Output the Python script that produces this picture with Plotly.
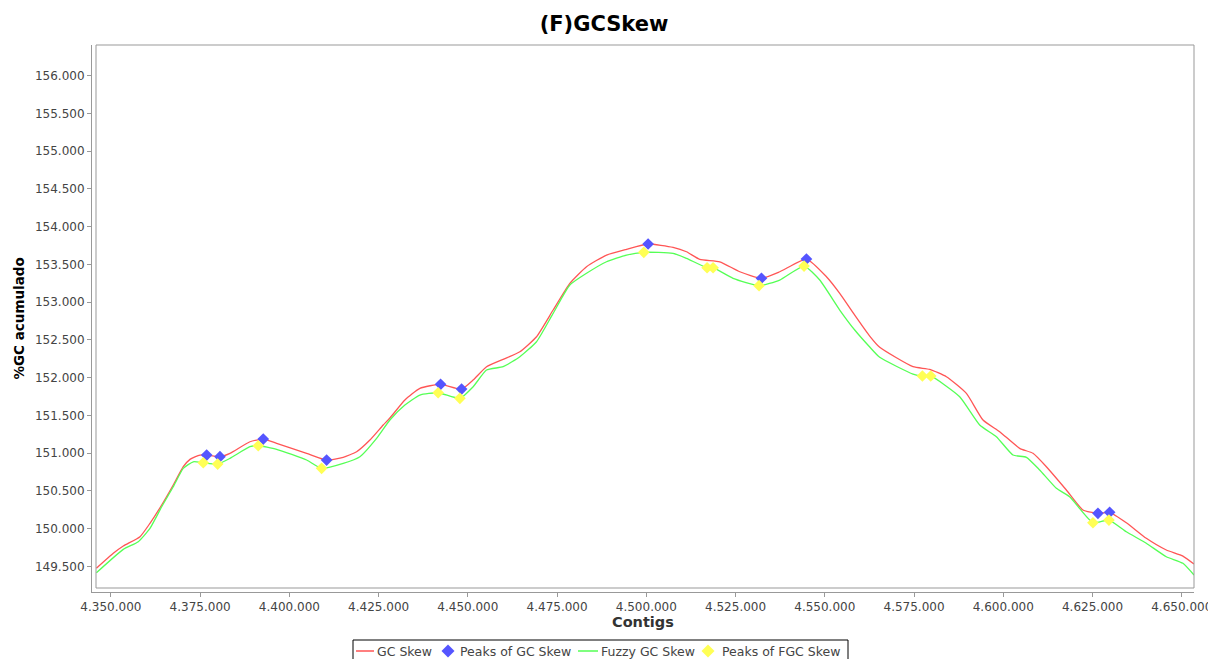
import plotly.graph_objects as go

# Cumulative GC skew along the contigs (position, %GC accumulated)
gc_x = [4345940, 4350670, 4353473, 4358149, 4360950, 4364227, 4367475, 4370276,
        4372152, 4374952, 4376829, 4380553, 4383353, 4388954, 4392680, 4396432,
        4404834, 4410435, 4415084, 4418836, 4422561, 4426286, 4428162, 4432362,
        4436563, 4442361, 4448242, 4451490, 4455243, 4459892, 4464569, 4469246,
        4473895, 4478572, 4483249, 4488850, 4494451, 4500499, 4507501, 4511253,
        4514978, 4520579, 4526180, 4532257, 4537382, 4544859, 4550461, 4554185,
        4558386, 4562587, 4565387, 4574713, 4579390, 4584066, 4589668, 4594317,
        4598994, 4604595, 4608319, 4612072, 4617673, 4622322, 4626521, 4629798,
        4634475, 4640076, 4645677, 4650326, 4653433]
gc_y = [149.476, 149.674, 149.771, 149.894, 150.072, 150.314, 150.579, 150.821,
        150.919, 150.976, 150.976, 150.954, 150.999, 151.152, 151.188, 151.131,
        150.999, 150.910, 150.946, 151.020, 151.175, 151.374, 151.466, 151.705,
        151.860, 151.913, 151.850, 151.970, 152.146, 152.244, 152.344, 152.543,
        152.897, 153.250, 153.470, 153.625, 153.701, 153.771, 153.727, 153.669,
        153.568, 153.536, 153.404, 153.317, 153.404, 153.572, 153.338, 153.118,
        152.830, 152.552, 152.403, 152.146, 152.111, 152.013, 151.793, 151.440,
        151.285, 151.065, 150.999, 150.821, 150.513, 150.248, 150.204, 150.217,
        150.079, 149.873, 149.718, 149.638, 149.532]

gc_peak_x = [4376829, 4380553, 4392680, 4410435, 4442361, 4448242, 4500499,
             4532257, 4544859, 4626521, 4629798]
gc_peak_y = [150.976, 150.954, 151.188, 150.910, 151.913, 151.850, 153.771,
             153.317, 153.572, 150.204, 150.217]

# Fuzzy GC skew
fgc_x = [4345940, 4353473, 4357673, 4360950, 4364227, 4367475, 4370276, 4373076,
         4375877, 4379909, 4383353, 4388954, 4391279, 4396432, 4404834, 4409035,
         4415084, 4419759, 4424436, 4428162, 4432362, 4436563, 4441688, 4447765,
         4451490, 4455243, 4459892, 4464569, 4469246, 4473895, 4478572, 4483249,
         4488850, 4494451, 4499295, 4507501, 4511253, 4517022, 4518702, 4524303,
         4531584, 4537382, 4544187, 4548582, 4554185, 4558386, 4562587, 4565387,
         4574713, 4577345, 4579669, 4587789, 4593390, 4598067, 4602716, 4606469,
         4610193, 4614870, 4618594, 4625121, 4629602, 4634475, 4640076, 4645677,
         4650326, 4653433]
fgc_y = [149.417, 149.727, 149.828, 150.005, 150.291, 150.556, 150.800, 150.887,
         150.874, 150.857, 150.932, 151.086, 151.099, 151.052, 150.910, 150.800,
         150.866, 150.954, 151.197, 151.440, 151.638, 151.771, 151.801, 151.727,
         151.881, 152.102, 152.146, 152.278, 152.477, 152.853, 153.228, 153.383,
         153.536, 153.625, 153.661, 153.648, 153.581, 153.457, 153.457, 153.317,
         153.219, 153.294, 153.479, 153.294, 152.897, 152.632, 152.407, 152.270,
         152.049, 152.023, 152.023, 151.748, 151.374, 151.219, 150.976, 150.946,
         150.778, 150.535, 150.424, 150.079, 150.115, 149.960, 149.807, 149.629,
         149.542, 149.387]

fgc_peak_x = [4375877, 4379909, 4391279, 4409035, 4441688, 4447765, 4499295,
              4517022, 4518702, 4531584, 4544187, 4577345, 4579669, 4625121,
              4629602]
fgc_peak_y = [150.874, 150.857, 151.099, 150.800, 151.801, 151.727, 153.661,
              153.457, 153.457, 153.219, 153.479, 152.023, 152.023, 150.079,
              150.115]

x_ticks = [4350000, 4375000, 4400000, 4425000, 4450000, 4475000, 4500000,
           4525000, 4550000, 4575000, 4600000, 4625000, 4650000]
x_tick_text = ["4.350.000", "4.375.000", "4.400.000", "4.425.000", "4.450.000",
               "4.475.000", "4.500.000", "4.525.000", "4.550.000", "4.575.000",
               "4.600.000", "4.625.000", "4.650.000"]
y_ticks = [149.5, 150.0, 150.5, 151.0, 151.5, 152.0, 152.5, 153.0, 153.5,
           154.0, 154.5, 155.0, 155.5, 156.0]
y_tick_text = ["149.500", "150.000", "150.500", "151.000", "151.500", "152.000",
               "152.500", "153.000", "153.500", "154.000", "154.500", "155.000",
               "155.500", "156.000"]

series_names = ["GC Skew", "Peaks of GC Skew", "Fuzzy GC Skew", "Peaks of FGC Skew"]

RED = "#FF5555"
BLUE = "#5555FF"
GREEN = "#55FF55"
YELLOW = "#FFFF55"
FONT = "DejaVu Sans"
W, H = 1208, 659
ML, MR, MT, MB = 92, 14, 45, 67
PW, PH = W - ML - MR, H - MT - MB


def px_x(p):
    """Horizontal pixel -> paper coordinate."""
    return (p - ML) / PW


def px_y(p):
    """Vertical pixel (from top) -> paper coordinate."""
    return (H - MB - p) / PH


fig = go.Figure()
fig.add_trace(go.Scatter(x=gc_x, y=gc_y, mode="lines", name=series_names[0],
                         line=dict(color=RED, width=1.3, shape="spline", smoothing=0.5)))
fig.add_trace(go.Scatter(x=gc_peak_x, y=gc_peak_y, mode="markers", name=series_names[1],
                         marker=dict(symbol="diamond", color=BLUE, size=9,
                                     line=dict(width=0))))
fig.add_trace(go.Scatter(x=fgc_x, y=fgc_y, mode="lines", name=series_names[2],
                         line=dict(color=GREEN, width=1.3, shape="spline", smoothing=0.5)))
fig.add_trace(go.Scatter(x=fgc_peak_x, y=fgc_peak_y, mode="markers", name=series_names[3],
                         marker=dict(symbol="diamond", color=YELLOW, size=9,
                                     line=dict(width=0))))

# Framed data area; the axis lines sit a few pixels outside it
fig.add_shape(type="rect", xref="paper", yref="paper",
              x0=px_x(96), x1=1.0, y0=px_y(588), y1=1.0,
              line=dict(color="#999999", width=1), layer="above")

# Legend box under the axis title
legend_y = 651
fig.add_shape(type="rect", xref="paper", yref="paper",
              x0=px_x(353), x1=px_x(848), y0=px_y(640), y1=px_y(668),
              line=dict(color="black", width=1), fillcolor="white")


def legend_line(x0, x1, color):
    fig.add_shape(type="line", xref="paper", yref="paper",
                  x0=px_x(x0), x1=px_x(x1), y0=px_y(legend_y), y1=px_y(legend_y),
                  line=dict(color=color, width=1.5))


def legend_diamond(cx, color, r=6.5):
    path = (f"M {px_x(cx - r)},{px_y(legend_y)} L {px_x(cx)},{px_y(legend_y - r)} "
            f"L {px_x(cx + r)},{px_y(legend_y)} L {px_x(cx)},{px_y(legend_y + r)} Z")
    fig.add_shape(type="path", xref="paper", yref="paper", path=path,
                  fillcolor=color, line=dict(width=0))


def legend_text(x, text):
    fig.add_annotation(text=text, xref="paper", yref="paper",
                       x=px_x(x), y=px_y(legend_y), xanchor="left", yanchor="middle",
                       showarrow=False, borderpad=0,
                       font=dict(family=FONT, size=12.5, color="#444444"))


legend_line(356, 374, RED)
legend_text(376, series_names[0])
legend_diamond(448, BLUE)
legend_text(459, series_names[1])
legend_line(578, 598, GREEN)
legend_text(600, series_names[2])
legend_diamond(708, YELLOW)
legend_text(721, series_names[3])

fig.update_layout(
    width=W, height=H,
    margin=dict(l=ML, r=MR, t=MT, b=MB, autoexpand=False),
    paper_bgcolor="white", plot_bgcolor="white",
    font=dict(family=FONT, color="#444444", size=12),
    title=dict(text="<b>(F)GCSkew</b>", x=0.5, xref="container", xanchor="center",
               y=1 - 24 / H, yanchor="middle",
               font=dict(family=FONT, size=21, color="black")),
    showlegend=False,
    xaxis=dict(range=[4344707, 4653433], tickvals=x_ticks, ticktext=x_tick_text,
               showgrid=False, zeroline=False, showline=True, linecolor="#999999",
               linewidth=1, ticks="outside", ticklen=4, tickcolor="#999999",
               ticklabeloverflow="allow", automargin=False,
               tickfont=dict(family=FONT, size=12, color="#444444")),
    yaxis=dict(range=[149.162, 156.407], tickvals=y_ticks, ticktext=y_tick_text,
               showgrid=False, zeroline=False, showline=True, linecolor="#999999",
               linewidth=1, ticks="outside", ticklen=4, tickcolor="#999999",
               automargin=False,
               tickfont=dict(family=FONT, size=12, color="#444444")),
)

fig.add_annotation(text="<b>Contigs</b>", xref="paper", yref="paper",
                   x=0.5, y=px_y(622), xanchor="center", yanchor="middle",
                   showarrow=False, font=dict(family=FONT, size=14.5, color="#333333"))
fig.add_annotation(text="<b>%GC acumulado</b>", xref="paper", yref="paper",
                   x=px_x(18), y=0.5, xanchor="center", yanchor="middle",
                   textangle=-90, showarrow=False,
                   font=dict(family=FONT, size=13.5, color="black"))

fig.write_html("out.html")
